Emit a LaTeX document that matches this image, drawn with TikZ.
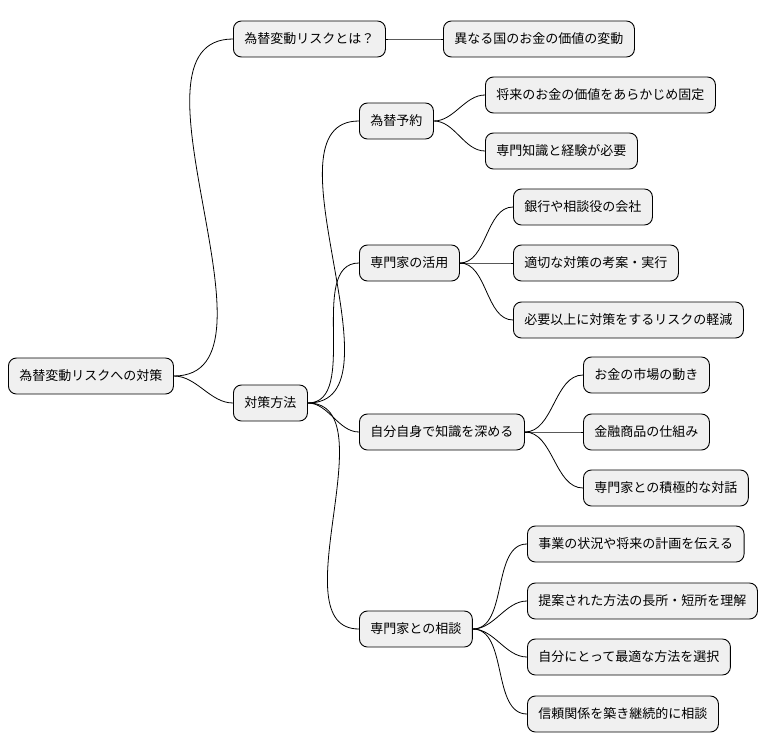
\documentclass[tikz,border=0pt]{standalone}
\usepackage{fontspec}
\newfontfamily\cjk{Noto Sans CJK JP}
\begin{document}
\begin{tikzpicture}[x=1pt,y=-1pt,
  topic/.style={rectangle,rounded corners=8pt,draw=black,line width=0.9pt,
    fill=black!6,font=\cjk\fontsize{13pt}{15pt}\selectfont,
    minimum height=36pt,inner xsep=11pt,anchor=west},
  branch/.style={line width=0.8pt,out=0,in=180,looseness=0.9}]
  \useasboundingbox (0,0) rectangle (782,752);

  \node[topic] (Root) at (8,376) {為替変動リスクへの対策};
  \node[topic] (What) at (233,39) {為替変動リスクとは？};
  \node[topic] (WhatA) at (443,39) {異なる国のお金の価値の変動};
  \node[topic] (Ways) at (233,403) {対策方法};
  \node[topic] (Fwd) at (359,121) {為替予約};
  \node[topic] (FwdA) at (485,95) {将来のお金の価値をあらかじめ固定};
  \node[topic] (FwdB) at (485,151) {専門知識と経験が必要};
  \node[topic] (Pro) at (359,263) {専門家の活用};
  \node[topic] (ProA) at (513,207) {銀行や相談役の会社};
  \node[topic] (ProB) at (513,263) {適切な対策の考案・実行};
  \node[topic] (ProC) at (513,320) {必要以上に対策をするリスクの軽減};
  \node[topic] (Self) at (359,432) {自分自身で知識を深める};
  \node[topic] (SelfA) at (583,375) {お金の市場の動き};
  \node[topic] (SelfB) at (583,432) {金融商品の仕組み};
  \node[topic] (SelfC) at (583,488) {専門家との積極的な対話};
  \node[topic] (Talk) at (359,629) {専門家との相談};
  \node[topic] (TalkA) at (527,544) {事業の状況や将来の計画を伝える};
  \node[topic] (TalkB) at (527,601) {提案された方法の長所・短所を理解};
  \node[topic] (TalkC) at (527,657) {自分にとって最適な方法を選択};
  \node[topic] (TalkD) at (527,714) {信頼関係を築き継続的に相談};

  \foreach \a/\b in {Root/What,What/WhatA,Root/Ways,Ways/Fwd,Fwd/FwdA,Fwd/FwdB,
      Ways/Pro,Pro/ProA,Pro/ProB,Pro/ProC,Ways/Self,Self/SelfA,Self/SelfB,
      Self/SelfC,Ways/Talk,Talk/TalkA,Talk/TalkB,Talk/TalkC,Talk/TalkD}
    \draw[branch] (\a.east) to (\b.west);
\end{tikzpicture}
\end{document}
